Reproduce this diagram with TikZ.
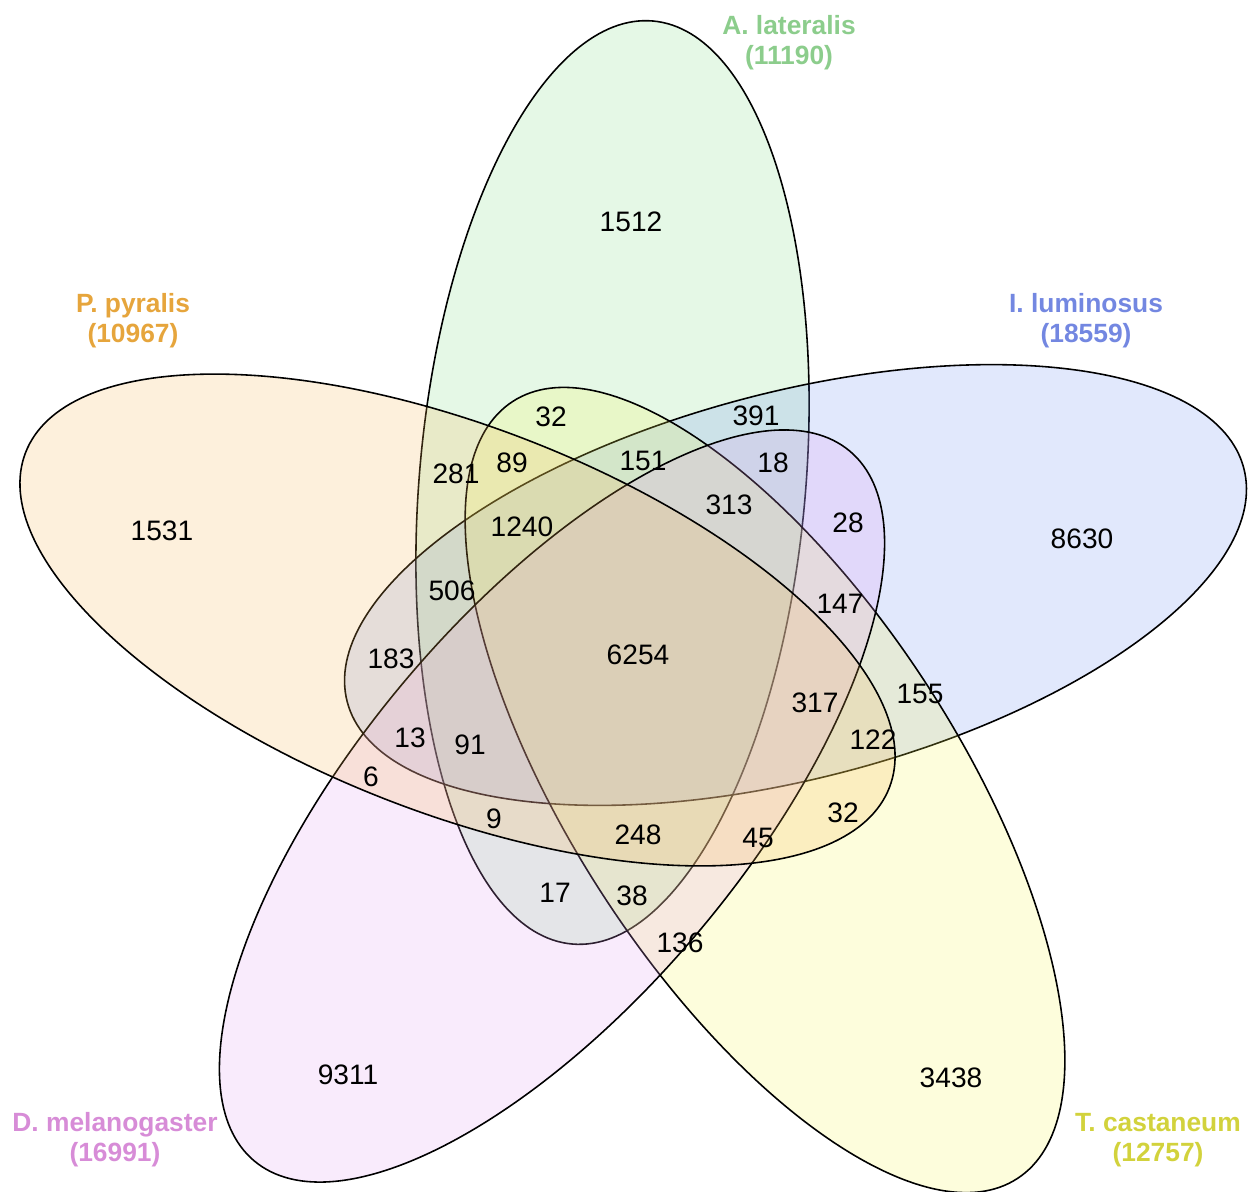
\documentclass[tikz,border=0pt]{standalone}
\usepackage{fontspec}
\setmainfont{Liberation Sans}
\usepackage{xcolor}
\usetikzlibrary{positioning}
\definecolor{latfill}{RGB}{125,220,130}
\definecolor{lumfill}{RGB}{105,140,240}
\definecolor{casfill}{RGB}{245,245,80}
\definecolor{melfill}{RGB}{225,155,240}
\definecolor{pyrfill}{RGB}{245,180,80}
\definecolor{lattext}{RGB}{140,205,140}
\definecolor{lumtext}{RGB}{115,135,225}
\definecolor{castext}{RGB}{210,210,60}
\definecolor{meltext}{RGB}{215,140,215}
\definecolor{pyrtext}{RGB}{230,165,60}
\tikzset{
	petal/.style={
		draw=black,
		line width=0.45pt,
		fill opacity=0.2
	},
	cnt/.style={
		font=\fontsize{8}{9.6}\selectfont,
		inner sep=0pt
	},
	setname/.style={
		font=\bfseries\fontsize{7.5}{8.5}\selectfont,
		align=center,
		inner sep=0pt
	}
}

\begin{document}
\begin{tikzpicture}[x=0.01cm,y=-0.01cm]
	\useasboundingbox (0,0) rectangle (1249,1191);
	\clip (0,0) rectangle (1249,1191);

	% five ellipses: centre, turn, fill
	\foreach \cx/\cy/\ang/\col in {
			612.5/482.5/-5/latfill,
			795.5/585/-75.4/lumfill,
			765/790/-147/casfill,
			552/806/-220/melfill,
			457.5/620/68.8/pyrfill}
		\draw[petal,fill=\col,rotate around={\ang:(\cx,\cy)}]
			(\cx,\cy) ellipse [x radius=1.93cm, y radius=4.63cm];

	% set names
	\node[setname,text=lattext] (latname) at (789,43)   {A. lateralis\\(11190)};
	\node[setname,text=pyrtext] (pyrname) at (133,321)  {P. pyralis\\(10967)};
	\node[setname,text=lumtext] (lumname) at (1086,321) {I. luminosus\\(18559)};
	\node[setname,text=meltext] (melname) at (115,1140) {D. melanogaster\\(16991)};
	\node[setname,text=castext] (casname) at (1158,1140) {T. castaneum\\(12757)};

	% region counts
	\path[every node/.style=cnt]
		node (rA)     at (631,222)  {1512}
		node (rP)     at (162,531)  {1531}
		node (rI)     at (1082,539) {8630}
		node (rD)     at (348,1075) {9311}
		node (rT)     at (951,1078) {3438}
		node (rAT)    at (551,417)  {32}
		node (rAI)    at (756,416)  {391}
		node (rAP)    at (456,474)  {281}
		node (rAPT)   at (512,463)  {89}
		node (rAIT)   at (643,461)  {151}
		node (rAID)   at (773,463)  {18}
		node (rAITD)  at (729,505)  {313}
		node (rAPIT)  at (522,527)  {1240}
		node (rID)    at (848,523)  {28}
		node (rAPI)   at (452,591)  {506}
		node (rITD)   at (840,604)  {147}
		node (rPI)    at (391,659)  {183}
		node (rall)   at (638,655)  {6254}
		node (rIT)    at (920,694)  {155}
		node (rPITD)  at (815,703)  {317}
		node (rPID)   at (410,738)  {13}
		node (rAPID)  at (470,745)  {91}
		node (rPIT)   at (873,740)  {122}
		node (rPD)    at (371,777)  {6}
		node (rAPD)   at (494,819)  {9}
		node (rAPTD)  at (638,835)  {248}
		node (rPT)    at (843,813)  {32}
		node (rPTD)   at (758,838)  {45}
		node (rAD)    at (555,893)  {17}
		node (rATD)   at (632,896)  {38}
		node (rTD)    at (680,943)  {136};
\end{tikzpicture}
\end{document}
